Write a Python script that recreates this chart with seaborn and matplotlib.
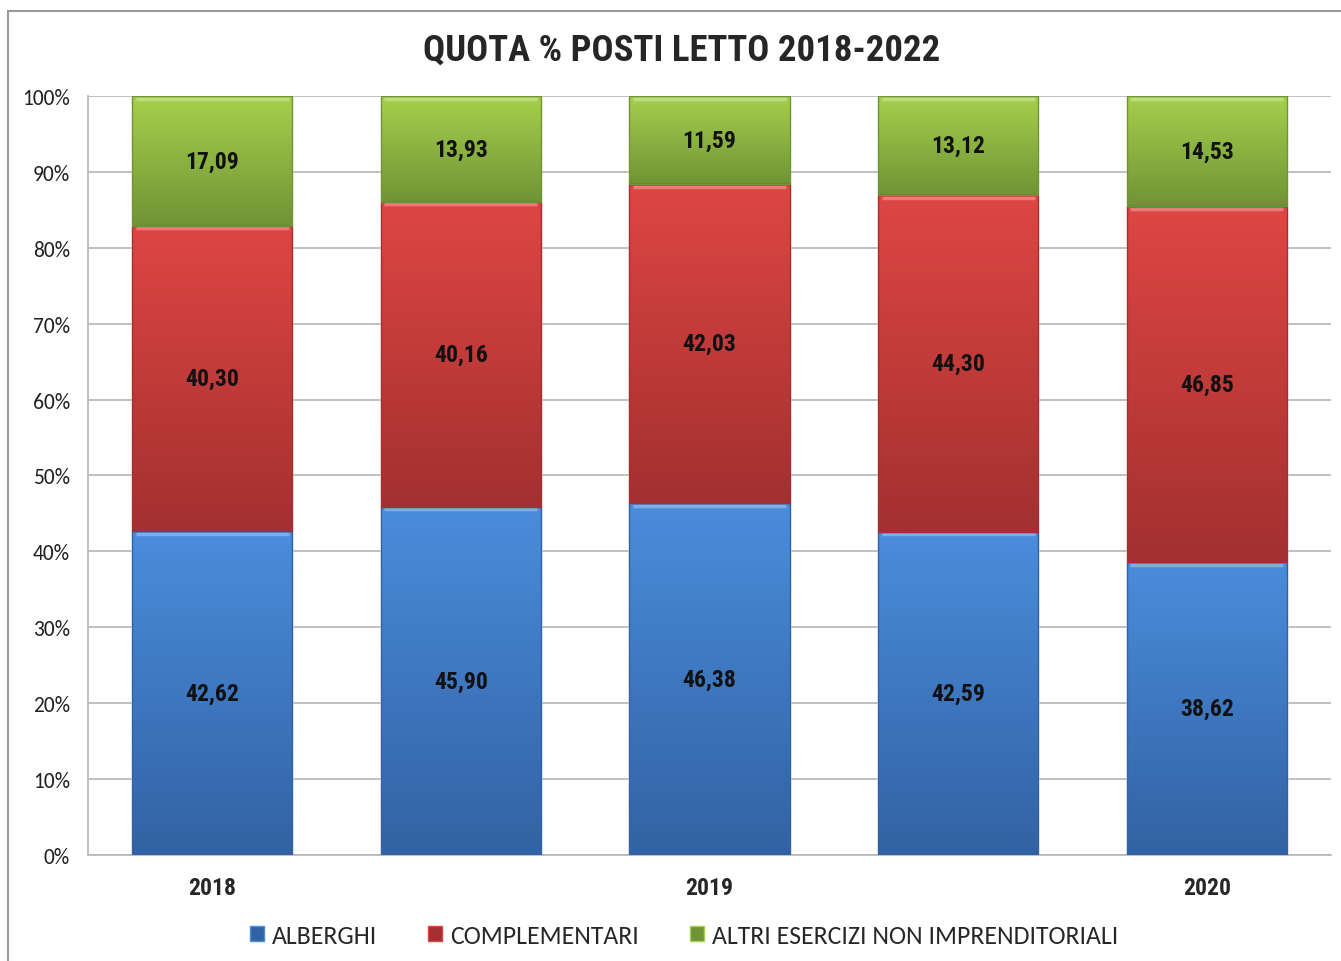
import matplotlib

matplotlib.use("Agg")
import matplotlib.pyplot as plt
import numpy as np
import pandas as pd
import seaborn as sns
from matplotlib.colors import LinearSegmentedColormap
from matplotlib.patches import Patch, Rectangle

# data
BARS = ["A", "B", "C", "D", "E"]
TICK_LABELS = ["2018", "", "2019", "", "2020"]
ALBERGHI = [42.62, 45.90, 46.38, 42.59, 38.62]
COMPLEMENTARI = [40.30, 40.16, 42.03, 44.30, 46.85]
ALTRI = [17.09, 13.93, 11.59, 13.12, 14.53]
SERIES = ["ALBERGHI", "COMPLEMENTARI", "ALTRI ESERCIZI NON IMPRENDITORIALI"]

# (top colour, bottom colour) of each vertical gradient
GRADIENTS = {
    "ALBERGHI": ("#4a8ddc", "#3262a3"),
    "COMPLEMENTARI": ("#de4643", "#a33030"),
    "ALTRI ESERCIZI NON IMPRENDITORIALI": ("#a6d04c", "#6f9436"),
}
NARROW = ["Liberation Sans Narrow", "Roboto Condensed", "DejaVu Sans"]
CALIBRI = ["Carlito", "Liberation Sans", "DejaVu Sans"]
BAR_WIDTH = 0.645

sns.set_style("white")
plt.rcParams["font.family"] = CALIBRI

df = pd.DataFrame({"bar": BARS, SERIES[0]: ALBERGHI, SERIES[1]: COMPLEMENTARI, SERIES[2]: ALTRI})
values = df[SERIES].to_numpy()
tops = values.cumsum(axis=1)

fig = plt.figure(figsize=(13.41, 9.62), dpi=100)
ax = fig.add_axes([0.0656, 0.1102, 0.927, 0.789])

# stacked bars: draw cumulative totals from the top layer down
for k in range(len(SERIES) - 1, -1, -1):
    sns.barplot(x=df["bar"], y=tops[:, k], color=GRADIENTS[SERIES[k]][1],
                width=BAR_WIDTH, saturation=1, ax=ax, zorder=2)

# gradient fill + labels for each visible segment
for k, name in enumerate(SERIES):
    cmap = LinearSegmentedColormap.from_list(name, [GRADIENTS[name][1], GRADIENTS[name][0]])
    grad = np.linspace(0, 1, 256).reshape(-1, 1)
    for i in range(len(BARS)):
        lo, hi = tops[i, k] - values[i, k], tops[i, k]
        x0, x1 = i - BAR_WIDTH / 2, i + BAR_WIDTH / 2
        ax.imshow(grad, cmap=cmap, extent=(x0, x1, lo, hi), origin="lower",
                  aspect="auto", zorder=3, interpolation="bilinear")
        ax.add_patch(Rectangle((x0, lo), BAR_WIDTH, hi - lo, fill=False,
                               edgecolor=GRADIENTS[name][1], linewidth=1.0, zorder=4))
        ax.plot([x0 + 0.015, x1 - 0.015], [hi - 0.35, hi - 0.35], color="white",
                alpha=0.3, linewidth=2.5, zorder=4, solid_capstyle="butt")
        ax.text(i, (lo + hi) / 2, f"{values[i, k]:.2f}".replace(".", ","),
                ha="center", va="center", fontsize=17, fontweight="bold",
                family=NARROW, color="#111111", zorder=5)

ax.set_xlim(-0.5, len(BARS) - 0.5)
ax.set_ylim(0, 100)
ax.set_yticks(np.arange(0, 101, 10))
ax.set_yticklabels([f"{v}%" for v in range(0, 101, 10)], fontsize=15.5, color="#222222")
ax.set_xticks(range(len(BARS)))
ax.set_xticklabels(TICK_LABELS, fontsize=17, fontweight="bold", family=NARROW)
ax.tick_params(axis="x", length=0, pad=15)
ax.tick_params(axis="y", length=0, pad=13)
ax.set_xlabel("")
ax.set_ylabel("")
ax.grid(axis="y", color="#b5b5b5", linewidth=1.2, zorder=0)
ax.set_axisbelow(True)
for side in ["top", "right"]:
    ax.spines[side].set_visible(False)
for side in ["left", "bottom"]:
    ax.spines[side].set_color("#b5b5b5")
    ax.spines[side].set_linewidth(1.2)

fig.text(0.508, 0.947, "QUOTA % POSTI LETTO 2018-2022", ha="center", va="center",
         fontsize=26.5, fontweight="bold", family=NARROW)

handles = [Patch(facecolor=GRADIENTS[s][1], edgecolor=GRADIENTS[s][0]) for s in SERIES]
fig.legend(handles, SERIES, loc="center", bbox_to_anchor=(0.51, 0.027), ncol=3,
           frameon=False, prop={"family": CALIBRI, "size": 18.5}, handlelength=0.55,
           handleheight=0.55, handletextpad=0.3, columnspacing=2.0)

# outer chart border (cut off at right and bottom like the reference)
fig.patches.append(Rectangle((0.006, -0.05), 1.2, 1.0375, transform=fig.transFigure,
                             fill=False, edgecolor="#9a9a9a", linewidth=1.5))

fig.savefig("out.png", dpi=100)
